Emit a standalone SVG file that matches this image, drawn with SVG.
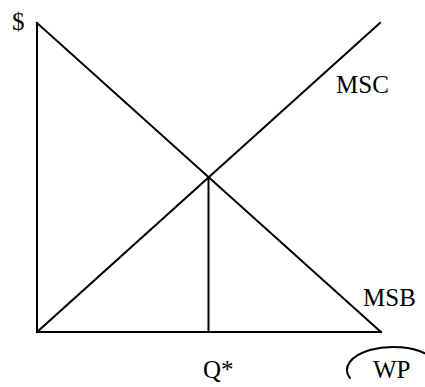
<svg xmlns="http://www.w3.org/2000/svg" width="425" height="387" viewBox="0 0 425 387">
  <style>
    .ln { stroke: #000; stroke-width: 2; fill: none; stroke-linecap: square; }
    .lbl { font-family: "Liberation Serif", "Times New Roman", serif; font-size: 25px; fill: #000; }
  </style>
  <rect width="425" height="387" fill="#fff"/>
  <g id="axes">
    <line class="ln" x1="37" y1="23" x2="37" y2="332"/>
    <line class="ln" x1="37" y1="332" x2="381" y2="332"/>
    <text class="lbl" x="12" y="30">$</text>
  </g>
  <g id="curves">
    <line id="msb-line" class="ln" x1="37" y1="23" x2="381" y2="332"/>
    <line id="msc-line" class="ln" x1="37" y1="332" x2="380" y2="23"/>
    <line id="qstar-line" class="ln" x1="208.5" y1="178" x2="208.5" y2="332"/>
  </g>
  <g id="msc"><text class="lbl" x="336" y="93">MSC</text></g>
  <g id="msb"><text class="lbl" x="363" y="306">MSB</text></g>
  <g id="qstar"><text class="lbl" x="203" y="378">Q*</text></g>
  <g id="wp">
    <path class="ln" stroke-width="1.5" d="M 349.8 377.9 A 46 23 0 1 1 428.2 384.8"/>
    <text class="lbl" x="373" y="378">WP</text>
  </g>
</svg>
